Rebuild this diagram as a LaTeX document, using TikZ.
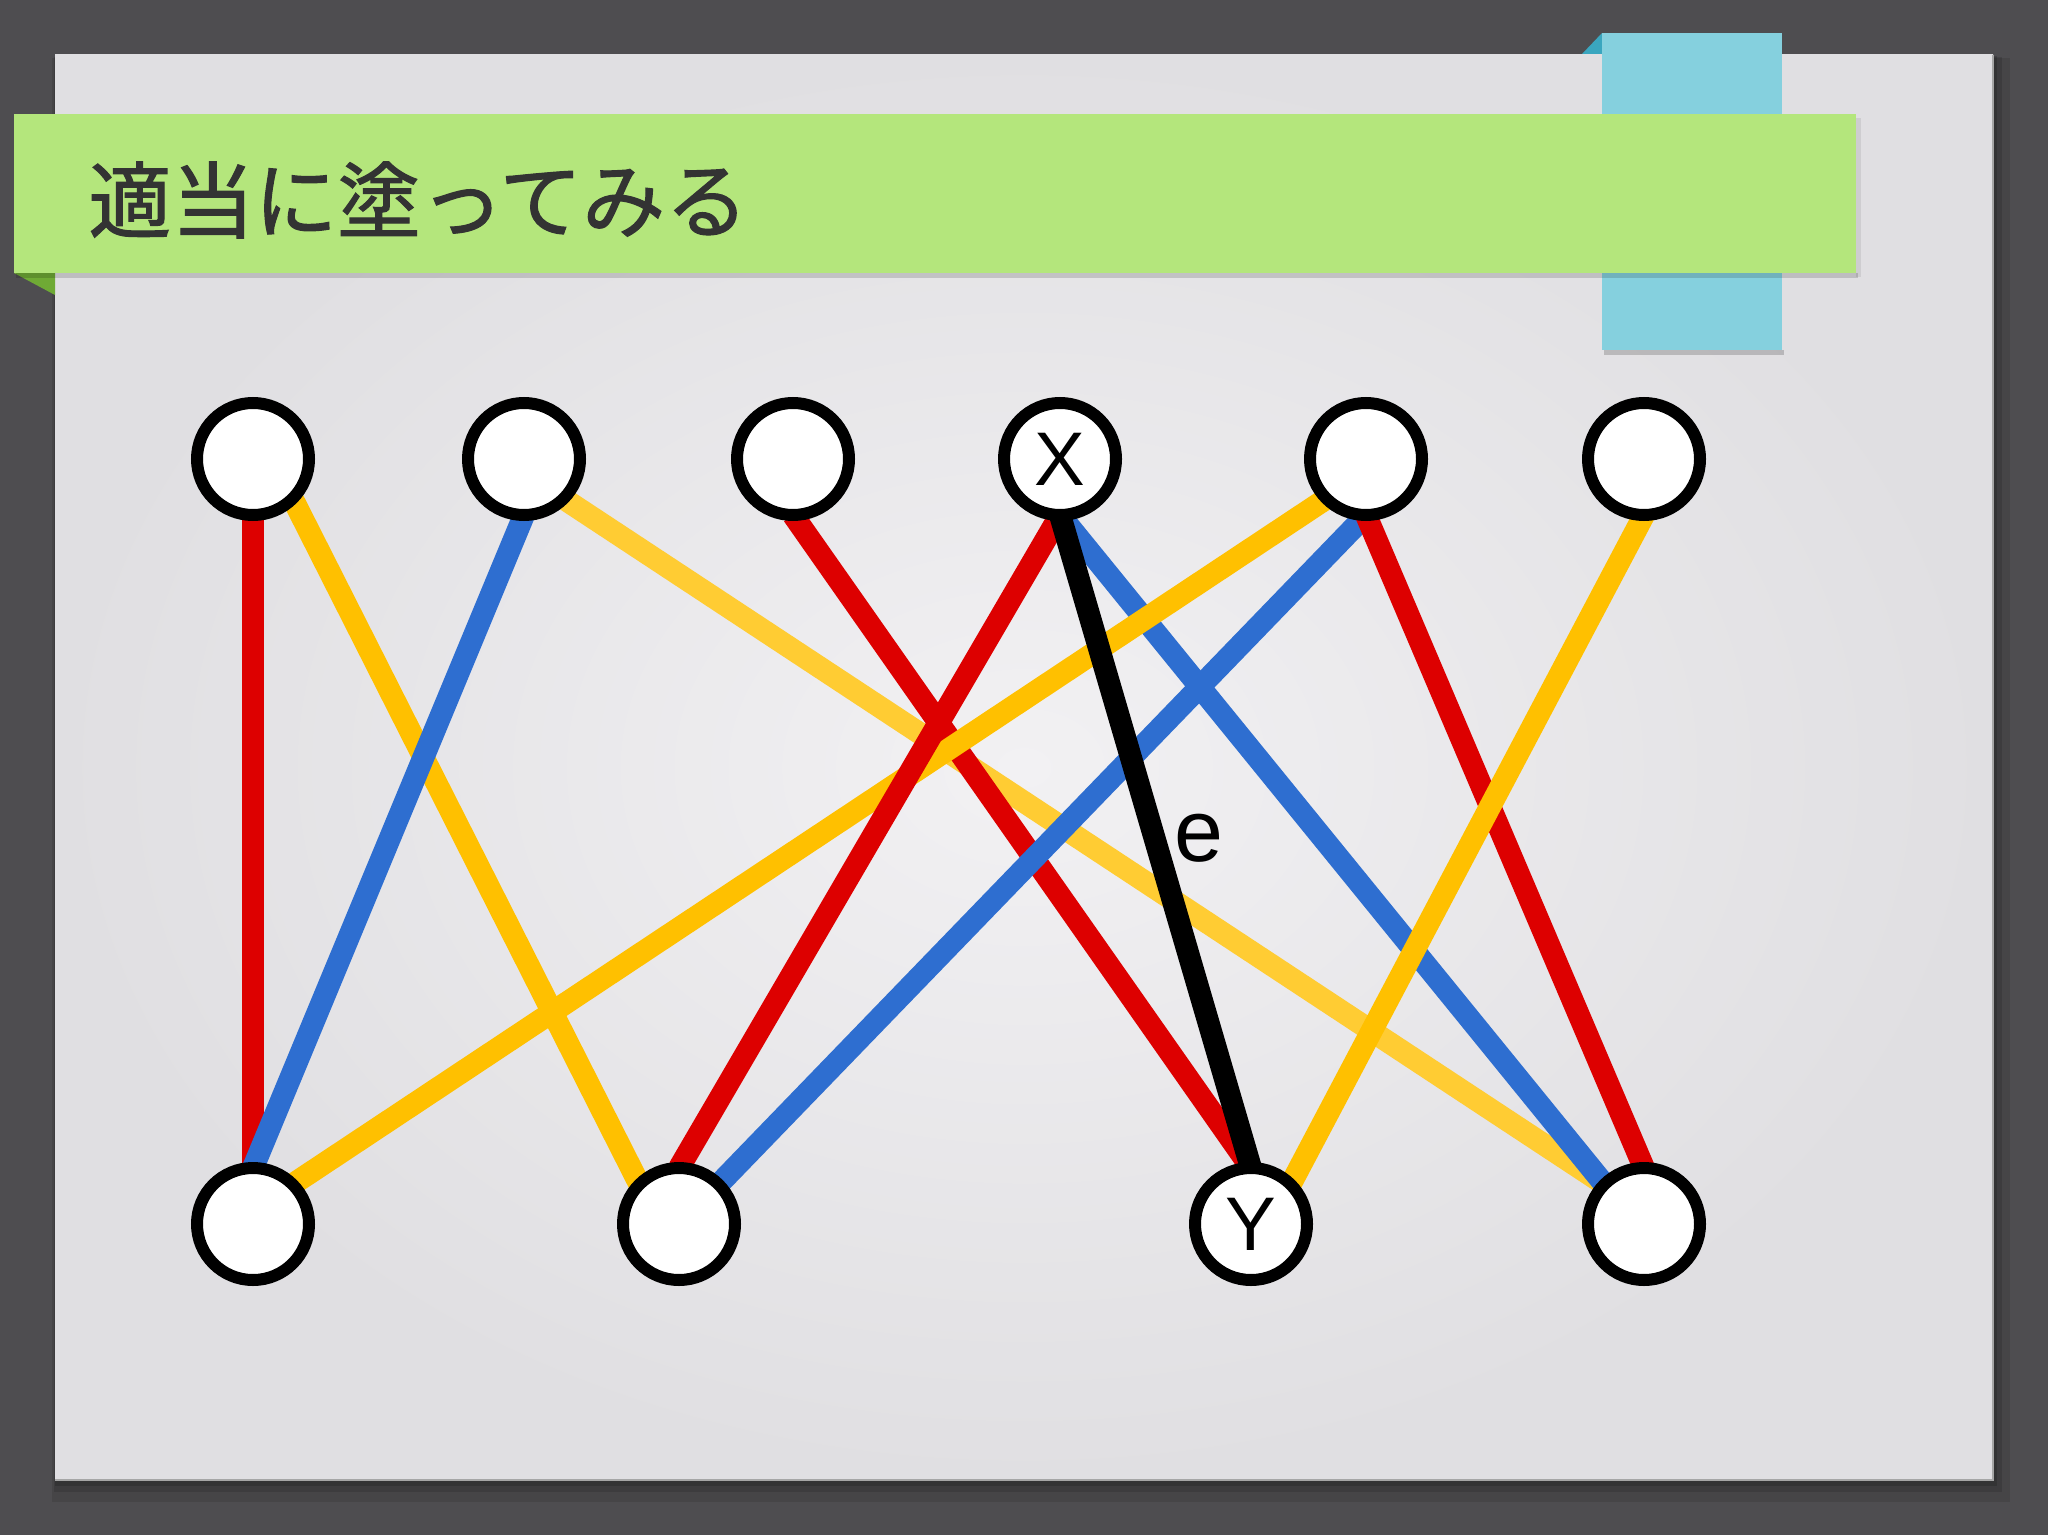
\documentclass[tikz,border=0pt]{standalone}
\usepackage{fontspec}
\setmainfont{Liberation Sans}
\newfontfamily\jpfont[FakeBold=1.3]{Noto Sans CJK JP}
\pgfdeclarelayer{back}
\pgfdeclarelayer{edges}
\pgfsetlayers{back,edges,main}
\definecolor{outerbg}{HTML}{4E4D50}
\definecolor{paperin}{HTML}{F2F1F3}
\definecolor{paperout}{HTML}{E0DFE2}
\definecolor{band}{HTML}{B4E67C}
\definecolor{bandfold}{HTML}{6FAA35}
\definecolor{tab}{HTML}{85D0DE}
\definecolor{tabfold}{HTML}{3AA6BF}
\definecolor{ttl}{HTML}{333333}
\definecolor{ered}{HTML}{DD0000}
\definecolor{eyel}{HTML}{FFC000}
\definecolor{eyel2}{HTML}{FFCC33}
\definecolor{eblue}{HTML}{2E6ED0}
\begin{document}
\begin{tikzpicture}[x=0.5pt,y=-0.5pt,
  vtx/.style={circle,draw=black,line width=6pt,fill=white,minimum size=56pt,inner sep=0pt,outer sep=0pt,font=\fontsize{38}{38}\selectfont},
  edgeline/.style={line width=11pt},
  lbl/.style={inner sep=0pt,font=\fontsize{44}{44}\selectfont}]
\useasboundingbox (0,0) rectangle (2048,1535);
\begin{pgfonlayer}{back}
  % outer background
  \fill[outerbg] (0,0) rectangle (2048,1535);
  % paper shadow
  \fill[black,opacity=0.10] (52,58) rectangle (2010,1502);
  \fill[black,opacity=0.12] (54,57) rectangle (2002,1492);
  \fill[black,opacity=0.15] (55,56) rectangle (1997,1486);
  % paper
  \shade[inner color=paperin,outer color=paperout] (55,55) rectangle (1993,1480);
  \draw[gray!70,line width=0.8pt] (55,1480) -- (1993,1480) -- (1993,55);
  % blue tab
  \fill[tabfold] (1582,54) -- (1602,33) -- (1602,54) -- cycle;
  \fill[black,opacity=0.18] (1604,350) rectangle (1784,355);
  \fill[tab] (1602,33) rectangle (1782,350);
  % green band
  \fill[bandfold] (14,273) -- (55,273) -- (55,295) -- cycle;
  \fill[black,opacity=0.15] (16,273) rectangle (1858,278);
  \fill[black,opacity=0.08] (1856,118) rectangle (1861,277);
  \fill[band] (14,114) rectangle (1856,273);
\end{pgfonlayer}
\node[anchor=west,inner sep=0pt,text=ttl,font=\jpfont\fontsize{41.5}{41.5}\selectfont] (title) at (88,200) {適当に塗ってみる};
% vertices
\node[vtx] (t1) at (253,459) {};
\node[vtx] (t2) at (524,459) {};
\node[vtx] (t3) at (793,459) {};
\node[vtx] (x)  at (1060,459) {X};
\node[vtx] (t5) at (1366,459) {};
\node[vtx] (t6) at (1644,459) {};
\node[vtx] (b1) at (253,1224) {};
\node[vtx] (b2) at (679,1224) {};
\node[vtx] (y)  at (1251,1224) {Y};
\node[vtx] (b4) at (1644,1224) {};
\begin{pgfonlayer}{edges}
  \draw[edgeline,eyel2] (t2.south east) -- (b4.north west);
  \draw[edgeline,ered] (t1.south) -- (b1.north);
  \draw[edgeline,eyel] (t1.south east) -- (b2.north west);
  \draw[edgeline,eblue] (t2.south) -- (b1.north);
  \draw[edgeline,ered] (t3.south) -- (y.north);
  \draw[edgeline,eblue] (x.south) -- (b4.north west);
  \draw[edgeline,eyel] (t5.south west) -- (b1.north east);
  \draw[edgeline,ered] (x.south) -- (b2.north);
  \draw[edgeline,eblue] (t5.south) -- (b2.north east);
  \draw[edgeline,ered] (t5.south) -- (b4.north);
  \draw[edgeline,eyel] (t6.south) -- (y.north east);
  \draw[edgeline,black] (x.south) -- (y.north);
\end{pgfonlayer}
\node[lbl] (elabel) at (1199,838) {e};
\end{tikzpicture}
\end{document}
